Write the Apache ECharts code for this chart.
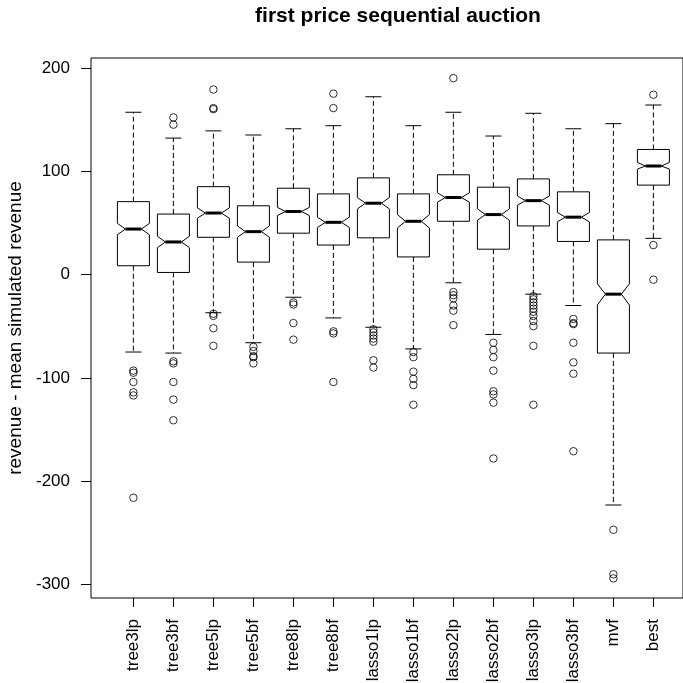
<!DOCTYPE html>
<html>
<head>
<meta charset="utf-8">
<script src="https://cdn.jsdelivr.net/npm/echarts@6/dist/echarts.min.js"></script>
<style>
  html, body { margin: 0; padding: 0; background: #fff; }
  #chart { width: 683px; height: 683px; }
</style>
</head>
<body>
<div id="chart"></div>
<script>
// categories
const cats = ['tree3lp', 'tree3bf', 'tree5lp', 'tree5bf', 'tree8lp', 'tree8bf', 'lasso1lp',
  'lasso1bf', 'lasso2lp', 'lasso2bf', 'lasso3lp', 'lasso3bf', 'mvf', 'best']

// box statistics
const whiskerLow = [-75, -76, -37, -66, -22, -42, -51, -72, -8, -58, -19, -30, -223, 35]
const q1 = [8.5, 2, 36, 12, 40, 28.5, 35.5, 17, 51.5, 24.5, 47, 32, -76, 86.5]
const notchLow = [38.5, 26, 54.5, 36, 57, 45.5, 63.5, 45, 70, 52.5, 67, 51, -29.5, 102]
const median = [44, 31.5, 59.5, 41.5, 61, 50.5, 69, 51.5, 74.5, 58, 71.5, 55.5, -19, 105]
const notchHigh = [49.5, 37, 64.5, 47, 65, 55.5, 74.5, 58, 79, 63.5, 76, 60, -9, 108.5]
const q3 = [70.5, 58.5, 85, 66.5, 83.5, 78, 93.5, 78, 96.5, 84.5, 92.5, 80, 33.5, 121]
const whiskerHigh = [157, 132, 139, 135, 141, 144, 172, 144, 157, 134, 156, 141, 146, 164]

// outliers per category
const outliers = [
  [-93, -95, -104, -114, -117, -216],
  [152, 145, -84, -86, -104, -121, -141],
  [179, 161, 160, -38, -40, -52, -69],
  [-70, -74, -79, -80, -86],
  [-27, -29, -47, -63],
  [175, 161, -55, -57, -104],
  [-53, -56, -59, -62, -65, -83, -90],
  [-75, -80, -94, -101, -107, -126],
  [190, -17, -20, -23, -30, -35, -49],
  [-66, -73, -80, -93, -113, -116, -124, -178],
  [-21, -24, -27, -30, -33, -36, -40, -45, -50, -69, -126],
  [-43, -47, -48, -66, -85, -96, -171],
  [-247, -290, -294],
  [174, 28.5, -5]
]

// axis ticks
const yTicks = [-300, -200, -100, 0, 100, 200]
const xTicks = cats.map((c, i) => i + 1)

const boxData = cats.map((c, i) => [i + 1, whiskerLow[i], q1[i], notchLow[i], median[i], notchHigh[i], q3[i], whiskerHigh[i]])
const outlierData = []
outliers.forEach((list, i) => list.forEach(v => outlierData.push([i + 1, v])))

const FONT = 'Liberation Sans'

function renderBox(params, api) {
  const x = api.value(0)
  const lo = api.value(1), b1 = api.value(2), nl = api.value(3), md = api.value(4)
  const nh = api.value(5), b3 = api.value(6), hi = api.value(7)
  const cx = api.coord([x, md])[0]
  const hw = api.size([0.4, 0])[0]
  const y = v => api.coord([x, v])[1]
  const line = { stroke: '#000', lineWidth: 1, fill: null }
  const dash = { stroke: '#000', lineWidth: 1, lineDash: [5, 3] }
  return {
    type: 'group',
    children: [
      { type: 'line', shape: { x1: cx, y1: y(b3), x2: cx, y2: y(hi) }, style: dash },
      { type: 'line', shape: { x1: cx, y1: y(b1), x2: cx, y2: y(lo) }, style: dash },
      { type: 'line', shape: { x1: cx - hw / 2, y1: y(hi), x2: cx + hw / 2, y2: y(hi) }, style: line },
      { type: 'line', shape: { x1: cx - hw / 2, y1: y(lo), x2: cx + hw / 2, y2: y(lo) }, style: line },
      {
        type: 'polygon',
        shape: {
          points: [
            [cx - hw, y(b3)], [cx + hw, y(b3)], [cx + hw, y(nh)], [cx + hw / 2, y(md)],
            [cx + hw, y(nl)], [cx + hw, y(b1)], [cx - hw, y(b1)], [cx - hw, y(nl)],
            [cx - hw / 2, y(md)], [cx - hw, y(nh)]
          ]
        },
        style: { stroke: '#000', lineWidth: 1, fill: '#fff' }
      },
      { type: 'line', shape: { x1: cx - hw / 2, y1: y(md), x2: cx + hw / 2, y2: y(md) }, style: { stroke: '#000', lineWidth: 3 } }
    ]
  }
}

const chart = echarts.init(document.getElementById('chart'))
chart.setOption({
  animation: false,
  backgroundColor: '#fff',
  title: {
    text: 'first price sequential auction',
    left: 393,
    top: 1,
    textAlign: 'center',
    textStyle: { fontFamily: FONT, fontWeight: 'bold', fontSize: 21, color: '#000' }
  },
  grid: {
    left: 91, top: 58, right: 0, bottom: 85,
    outerBoundsMode: 'none',
    containLabel: false,
    show: true, borderColor: '#000', borderWidth: 1, backgroundColor: 'transparent'
  },
  xAxis: {
    type: 'value',
    min: -0.06,
    max: 14.74,
    splitLine: { show: false },
    axisLine: { show: false, onZero: false },
    axisTick: { show: true, length: 9, customValues: xTicks, lineStyle: { color: '#000' } },
    axisLabel: {
      customValues: xTicks,
      rotate: 90,
      margin: 21,
      fontFamily: FONT,
      fontSize: 17,
      color: '#000',
      formatter: v => cats[Math.round(v) - 1] || ''
    }
  },
  yAxis: {
    type: 'value',
    min: -313,
    max: 209.5,
    name: 'revenue - mean simulated revenue',
    nameLocation: 'middle',
    nameGap: 62,
    nameTextStyle: { fontFamily: FONT, fontSize: 19, color: '#000' },
    splitLine: { show: false },
    axisLine: { show: false, onZero: false },
    axisTick: { show: true, length: 10, customValues: yTicks, lineStyle: { color: '#000' } },
    axisLabel: {
      customValues: yTicks,
      margin: 21,
      fontFamily: FONT,
      fontSize: 17,
      color: '#000'
    }
  },
  series: [
    {
      type: 'custom',
      renderItem: renderBox,
      data: boxData,
      encode: { x: 0, y: [1, 7] },
      z: 2
    },
    {
      type: 'scatter',
      data: outlierData,
      symbol: 'circle',
      symbolSize: 7.5,
      itemStyle: { color: 'transparent', borderColor: '#000', borderWidth: 1 },
      z: 3
    }
  ]
})
</script>
</body>
</html>
